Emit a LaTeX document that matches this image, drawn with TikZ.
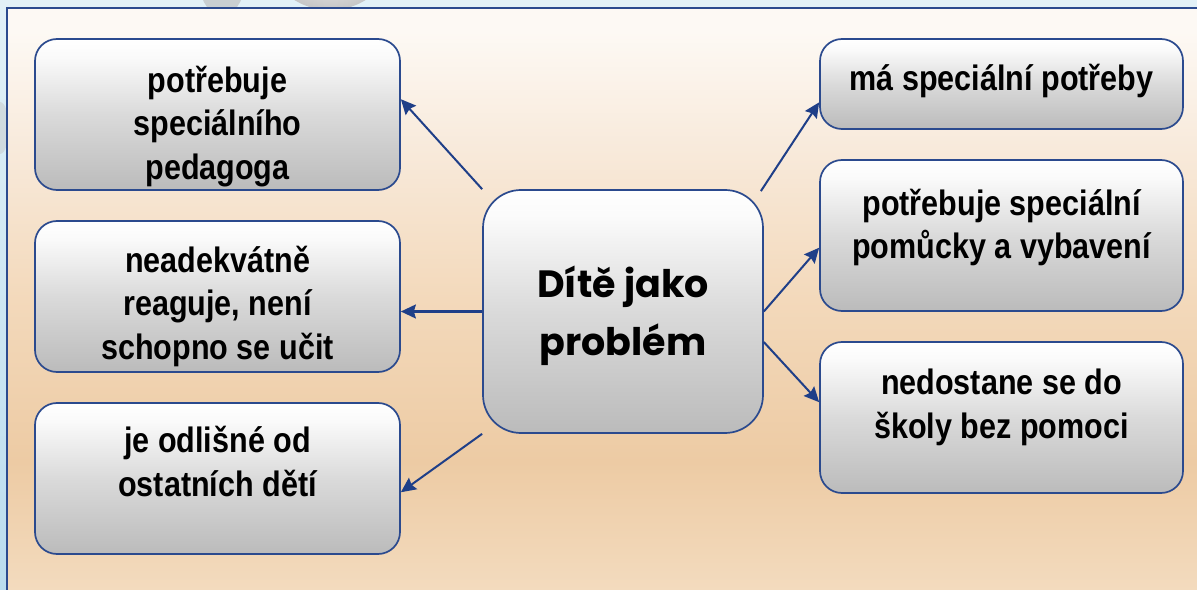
\documentclass[tikz,border=0pt]{standalone}
\usepackage{fontspec}
\setmainfont{Liberation Sans}
\newfontfamily\boxfont[FakeStretch=0.865]{Liberation Sans Bold}
\newfontfamily\centerfont{Poppins}
\usetikzlibrary{arrows.meta,calc}
\definecolor{navy}{HTML}{2B4A8E}
\definecolor{arrowblue}{HTML}{1F3F88}
\definecolor{boxbot}{HTML}{BBBBBB}
\definecolor{boxmid}{HTML}{DADADA}
\definecolor{boxtop}{HTML}{FAFAFA}
\definecolor{bgA}{HTML}{FDF9F4}
\definecolor{bgB}{HTML}{F8EADB}
\definecolor{bgC}{HTML}{F3D9BB}
\definecolor{bgD}{HTML}{EDCBA4}
\definecolor{bgE}{HTML}{F3DBBE}
\definecolor{skyA}{HTML}{E2F1F7}
\definecolor{skyB}{HTML}{BADCEE}
\pgfdeclareverticalshading{boxshade}{100bp}{color(0bp)=(boxbot); color(25bp)=(boxbot); color(50bp)=(boxmid); color(69bp)=(boxtop); color(75bp)=(white); color(100bp)=(white)}
\pgfdeclareverticalshading{bgshade}{100bp}{color(0bp)=(bgE); color(25bp)=(bgE); color(36bp)=(bgD); color(50bp)=(bgC); color(63bp)=(bgB); color(73bp)=(bgA); color(100bp)=(bgA)}
\pgfdeclareverticalshading{skyshade}{100bp}{color(0bp)=(skyB); color(25bp)=(skyB); color(75bp)=(skyA); color(100bp)=(skyA)}
\tikzset{
  bx/.style={draw=navy, line width=1.7bp, rounded corners=22bp, shading=boxshade, inner sep=0pt},
  bigbx/.style={bx, rounded corners=38bp},
  txt/.style={align=center, inner sep=0pt, font=\boxfont\fontsize{35.3bp}{43.5bp}\selectfont},
  ctxt/.style={align=center, inner sep=0pt, font=\centerfont\bfseries\fontsize{38bp}{58bp}\selectfont},
  conn/.style={draw=arrowblue, line width=2bp, -{Stealth[length=15bp,width=14bp,inset=2bp]}}
}
\begin{document}
\begin{tikzpicture}[x=1bp,y=-1bp]
\useasboundingbox (0,0) rectangle (1197,590);
% outer background
\shade[shading=skyshade] (0,0) rectangle (1197,590);
\fill[gray!55, opacity=.6] (222,-15) ellipse (22 and 30);
\shade[inner color=white, outer color=gray!45] (330,-45) ellipse (62 and 55);
\fill[gray!45, opacity=.45] (0,128) ellipse (9 and 26);
% frame
\shade[shading=bgshade] (7,8) rectangle (1197,590);
\draw[navy, line width=2bp] (7,590) -- (7,8) -- (1197,8);
% boxes
\node[bx, minimum width=365bp, minimum height=151bp] (l1) at (217.5,114.5) {};
\node[bx, minimum width=365bp, minimum height=151bp] (l2) at (217.5,296.5) {};
\node[bx, minimum width=365bp, minimum height=151bp] (l3) at (217.5,478.5) {};
\node[bx, minimum width=363bp, minimum height=90bp] (r1) at (1001.5,84) {};
\node[bx, minimum width=363bp, minimum height=151bp] (r2) at (1001.5,235.5) {};
\node[bx, minimum width=363bp, minimum height=151bp] (r3) at (1001.5,417.5) {};
\node[bigbx, minimum width=280bp, minimum height=243bp] (c) at (623,311.5) {};
% texts
\node[txt] (tl1) at (217.5,127) {\strut potřebuje\\speciálního\\pedagoga\strut};
\node[txt] (tl2) at (217.5,307) {\strut neadekvátně\\reaguje, není\\schopno se učit\strut};
\node[txt] (tl3) at (217.5,466) {\strut je odlišné od\\ostatních dětí\strut};
\node[txt] (tr1) at (1001.5,81.5) {\strut má speciální potřeby\strut};
\node[txt] (tr2) at (1001.5,228.5) {\strut potřebuje speciální\\pomůcky a vybavení\strut};
\node[txt] (tr3) at (1001.5,408) {\strut nedostane se do\\školy bez pomoci\strut};
\node[ctxt] (tc) at (623,315) {\strut Dítě jako\\problém\strut};
% connectors
\draw[conn] (c.north west) -- ($(l1.north east)!0.4!(l1.south east)$);
\draw[conn] (c.west) -- (c.west -| l2.east);
\draw[conn] (c.south west) -- ($(l3.north east)!0.59!(l3.south east)$);
\draw[conn] ($(c.north east)+(-3,2)$) -- ($(r1.north west)!0.7!(r1.south west)$);
\draw[conn] (c.east) -- ($(r2.north west)!0.58!(r2.south west)$);
\draw[conn] ($(c.north east)!0.625!(c.south east)$) -- ($(r3.north west)!0.4!(r3.south west)$);
\end{tikzpicture}
\end{document}
